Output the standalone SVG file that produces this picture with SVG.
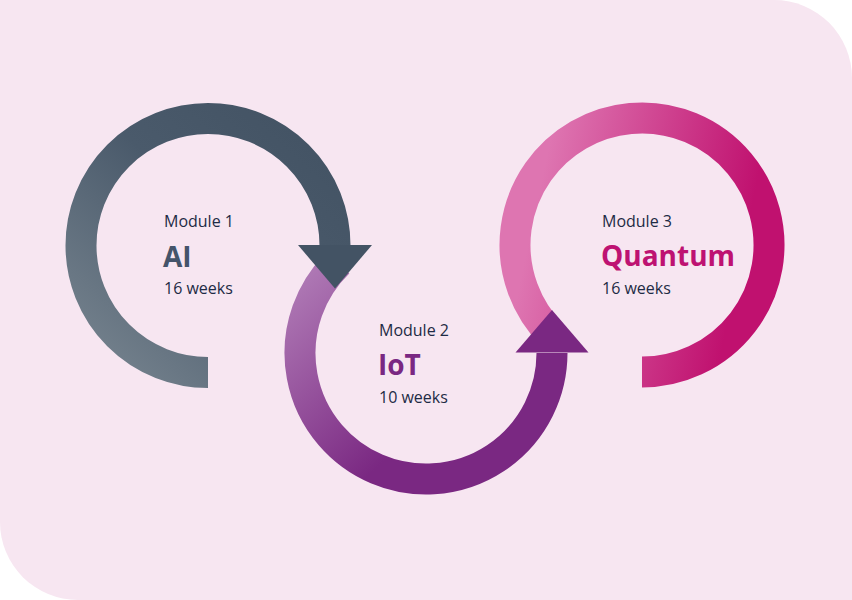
<svg xmlns="http://www.w3.org/2000/svg" width="852" height="600" viewBox="0 0 852 600">
  <defs>
    <linearGradient id="g1" gradientUnits="userSpaceOnUse" x1="90" y1="380" x2="320" y2="130">
      <stop offset="0" stop-color="#788590"/>
      <stop offset="0.6" stop-color="#4A5A6B"/>
      <stop offset="1" stop-color="#435364"/>
    </linearGradient>
    <linearGradient id="g2" gradientUnits="userSpaceOnUse" x1="300" y1="270" x2="480" y2="460">
      <stop offset="0" stop-color="#B07BB6"/>
      <stop offset="0.75" stop-color="#7A2882"/>
      <stop offset="1" stop-color="#7A2882"/>
    </linearGradient>
    <linearGradient id="g3" gradientUnits="userSpaceOnUse" x1="502" y1="200" x2="785" y2="260">
      <stop offset="0.12" stop-color="#DE75B1"/>
      <stop offset="0.85" stop-color="#C0116F"/>
    </linearGradient>
    <style>
      .ring { fill: none; stroke-width: 31; }
      .lbl { font-family: "Open Sans", "Liberation Sans", sans-serif; font-size: 16px; fill: #1E2B45; }
      .ttl { font-family: "Open Sans", "Liberation Sans", sans-serif; font-size: 28px; font-weight: bold; }
    </style>
  </defs>
  <path d="M0 0 H774 A78 78 0 0 1 852 78 V600 H78 A78 78 0 0 1 0 522 Z" fill="#F7E6F1"/>

  <g id="connectors">
    <path id="ring3" class="ring" stroke="url(#g3)" d="M552.2 334.8 A127 127 0 1 1 642 372"/>
    <path id="ring2" class="ring" stroke="url(#g2)" d="M338.5 262.4 A126 126 0 1 0 552 353"/>
    <polygon id="arrow2" points="515.5,352.5 588.5,352.5 552,310" fill="#7A2882"/>
    <path id="ring1" class="ring" stroke="url(#g1)" d="M208 372.5 A127 127 0 1 1 335 245.5"/>
    <polygon id="arrow1" points="298,245 372,245 335,288.5" fill="#435364"/>
  </g>

  <g id="module1">
    <text class="lbl" x="164" y="227">Module 1</text>
    <text class="ttl" x="163" y="266.5" fill="#44546A">AI</text>
    <text class="lbl" x="164" y="294">16 weeks</text>
  </g>
  <g id="module2">
    <text class="lbl" x="379" y="336">Module 2</text>
    <text class="ttl" x="378" y="375" fill="#7A2882">IoT</text>
    <text class="lbl" x="379" y="402.5">10 weeks</text>
  </g>
  <g id="module3">
    <text class="lbl" x="602" y="227">Module 3</text>
    <text class="ttl" x="601" y="266" fill="#BE1272">Quantum</text>
    <text class="lbl" x="602" y="294">16 weeks</text>
  </g>
</svg>
